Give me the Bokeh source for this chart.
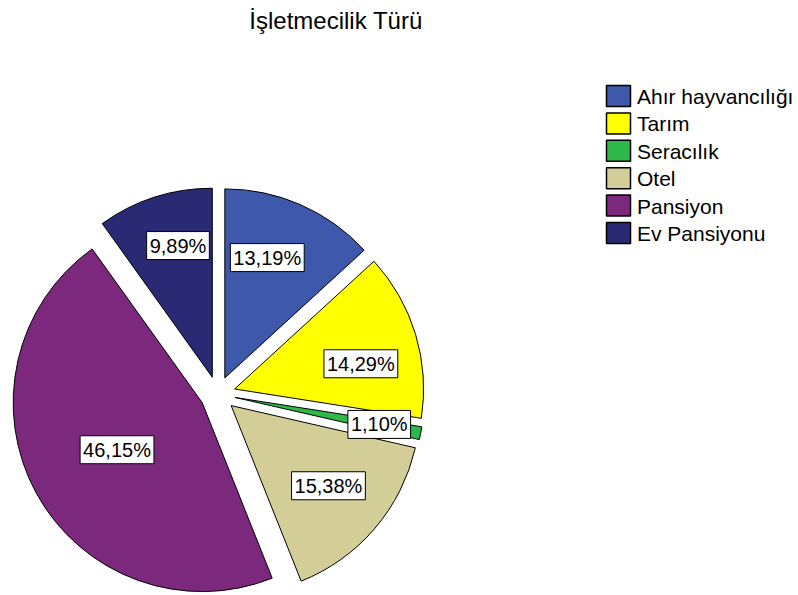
import math
from bokeh.plotting import figure
from bokeh.models import ColumnDataSource, Range1d
from bokeh.core.properties import value
from bokeh.embed import file_html
from bokeh.resources import INLINE

# ---- data ----
title_text = "İşletmecilik Türü"
categories = ["Ahır hayvancılığı", "Tarım", "Seracılık", "Otel", "Pansiyon", "Ev Pansiyonu"]
percents = [13.19, 14.29, 1.10, 15.38, 46.15, 9.89]
colors = ["#3E58AC", "#FFFF00", "#2EB848", "#D3CE97", "#7C287D", "#292A73"]

# ---- layout (canvas px, y up) ----
W, H = 798, 595
CX, CY = 217.2, 201.4
R = 189.0
EXPLODE = 17.7
label_shift_deg = [-4.3, 5.5, -0.3, -1.1, -0.3, 3.2]   # clockwise shift of label from slice middle
label_frac = [0.675, 0.681, 0.776, 0.667, 0.515, 0.72]  # label distance / radius
FONT = "Liberation Sans"

total = sum(percents)
starts, ends, xs, ys, lx, ly, labels = [], [], [], [], [], [], []
cum = 0.0
for i, v in enumerate(percents):
    s = cum / total
    e = (cum + v) / total
    cum += v
    a0 = math.pi / 2 - 2 * math.pi * s
    a1 = math.pi / 2 - 2 * math.pi * e
    m = (a0 + a1) / 2
    ax = CX + EXPLODE * math.cos(m)
    ay = CY + EXPLODE * math.sin(m)
    starts.append(a0)
    ends.append(a1)
    xs.append(ax)
    ys.append(ay)
    ml = m - math.radians(label_shift_deg[i])
    lx.append(ax + label_frac[i] * R * math.cos(ml))
    ly.append(ay + label_frac[i] * R * math.sin(ml))
    labels.append(f"{v:.2f}".replace(".", ",") + "%")

src = ColumnDataSource(dict(x=xs, y=ys, start=starts, end=ends, color=colors,
                            lx=lx, ly=ly, label=labels, cat=categories))

p = figure(width=W, height=H, output_backend="svg", toolbar_location=None,
           x_range=Range1d(0, W), y_range=Range1d(0, H),
           min_border=0, min_border_left=0, min_border_right=0,
           min_border_top=0, min_border_bottom=0)
p.axis.visible = False
p.grid.visible = False
p.outline_line_color = None
p.background_fill_color = "white"
p.border_fill_color = "white"

p.wedge(x="x", y="y", radius=R, radius_units="screen", start_angle="start", end_angle="end",
        direction="clock", fill_color="color", line_color="black", line_width=1, source=src)

p.text(x="lx", y="ly", text="label", source=src, text_font=value(FONT),
       text_font_size="20px", text_color="black", text_align="center", text_baseline="middle",
       background_fill_color="white", border_line_color="black", border_line_width=1, padding=3)

# title
p.text(x=[335.5], y=[575.5], text=[title_text], text_font=value(FONT), text_font_size="24px",
       text_color="black", text_align="center", text_baseline="middle")

# legend
leg_x = 618
leg_y0 = 499.5
leg_dy = 27.4
n = len(categories)
leg_src = ColumnDataSource(dict(
    x=[leg_x] * n,
    y=[leg_y0 - i * leg_dy for i in range(n)],
    ty=[leg_y0 - i * leg_dy - 0.5 for i in range(n)],
    tx=[leg_x + 18.5] * n,
    color=colors, cat=categories))
p.rect(x="x", y="y", width=24, height=21, width_units="screen", height_units="screen",
       fill_color="color", line_color="black", line_width=1.5, source=leg_src)
p.text(x="tx", y="ty", text="cat", source=leg_src, text_font=value(FONT), text_font_size="21px",
       text_color="black", text_align="left", text_baseline="middle")

open("out.html", "w").write(file_html(p, INLINE))
